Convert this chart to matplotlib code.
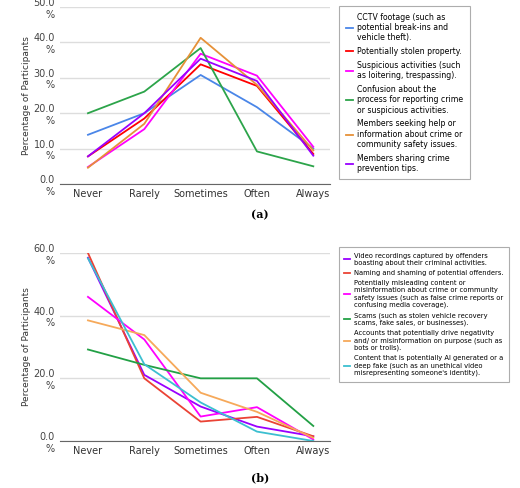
import matplotlib.pyplot as plt
import numpy as np

cats = ["Never", "Rarely", "Sometimes", "Often", "Always"]

a_labels = ["CCTV footage (such as\npotential break-ins and\nvehicle theft).",
            "Potentially stolen property.",
            "Suspicious activities (such\nas loitering, trespassing).",
            "Confusion about the\nprocess for reporting crime\nor suspicious activities.",
            "Members seeking help or\ninformation about crime or\ncommunity safety issues.",
            "Members sharing crime\nprevention tips."]
a_cctv = [13.9, 20.0, 30.8, 21.7, 10.0]
a_stolen = [7.8, 18.5, 33.8, 27.7, 8.5]
a_susp = [4.8, 15.5, 36.8, 30.6, 10.5]
a_conf = [20.0, 26.1, 38.4, 9.2, 5.0]
a_help = [4.6, 17.0, 41.3, 28.0, 9.5]
a_tips = [7.8, 20.0, 35.4, 29.1, 8.0]
a_colors = ["#4a86e8", "#ff0000", "#ff00ff", "#2ca44a", "#e69138", "#9900ff"]

b_labels = ["Video recordings captured by offenders\nboasting about their criminal activities.",
            "Naming and shaming of potential offenders.",
            "Potentially misleading content or\nmisinformation about crime or community\nsafety issues (such as false crime reports or\nconfusing media coverage).",
            "Scams (such as stolen vehicle recovery\nscams, fake sales, or businesses).",
            "Accounts that potentially drive negativity\nand/ or misinformation on purpose (such as\nbots or trolls).",
            "Content that is potentially AI generated or a\ndeep fake (such as an unethical video\nmisrepresenting someone's identity)."]
b_video = [58.5, 21.1, 11.0, 4.6, 1.5]
b_naming = [60.0, 20.0, 6.2, 7.7, 1.5]
b_misl = [46.0, 32.4, 7.8, 10.8, 0.5]
b_scams = [29.2, 24.3, 20.0, 20.0, 4.8]
b_accts = [38.5, 33.8, 15.4, 9.3, 1.0]
b_ai = [58.3, 24.5, 12.3, 3.0, 0.0]
b_colors = ["#9900ff", "#ea4335", "#ff00ff", "#22a045", "#f6a95a", "#3cbfd0"]

fig = plt.figure(figsize=(5.2, 4.88), dpi=100)

def panel(rect, series, labels, colors, ymax, step, legrect, tag, tagy, lfs):
    ax = fig.add_axes(rect)
    x = np.arange(len(cats))
    handles = []
    for s, c in zip(series, colors):
        h, = ax.plot(x, s, color=c, lw=1.3)
        handles.append(h)
    ax.set_xlim(-0.5, 4.3)
    ax.set_ylim(0, ymax)
    ticks = np.arange(0, ymax + 0.1, step)
    ax.set_yticks(ticks)
    ax.set_yticklabels([f"{t:.1f}\n%" for t in ticks], fontsize=7, color="#444")
    ax.set_xticks(x)
    ax.set_xticklabels(cats, fontsize=7, color="#333")
    ax.tick_params(length=0)
    ax.grid(axis="y", color="#dddddd", lw=1)
    for sp in ["top", "right", "left"]:
        ax.spines[sp].set_visible(False)
    ax.spines["bottom"].set_color("#666")
    ax.set_ylabel("Percentage of Participants", fontsize=6.5, labelpad=2, color="#333")
    leg = fig.legend(handles, labels, loc="upper left", bbox_to_anchor=legrect,
                     fontsize=lfs, frameon=True, handlelength=0.9, labelspacing=0.6,
                     borderpad=0.8, fancybox=False, handletextpad=0.6)
    leg.get_frame().set_edgecolor("#999")
    leg.get_frame().set_linewidth(0.8)
    fig.text(0.5, tagy, tag, ha="center", fontsize=8, fontweight="bold", family="DejaVu Serif")

panel([0.115, 1 - 184/488, 0.52, 177/488],
      [a_cctv, a_stolen, a_susp, a_conf, a_help, a_tips], a_labels, a_colors,
      50, 10, (0.645, 0.995), "(a)", 1 - 218/488, 5.6)
panel([0.115, 1 - 441/488, 0.52, 188/488],
      [b_video, b_naming, b_misl, b_scams, b_accts, b_ai], b_labels, b_colors,
      60, 20, (0.645, 0.5), "(b)", 1 - 481/488, 4.9)

fig.savefig("out.png", dpi=100)
